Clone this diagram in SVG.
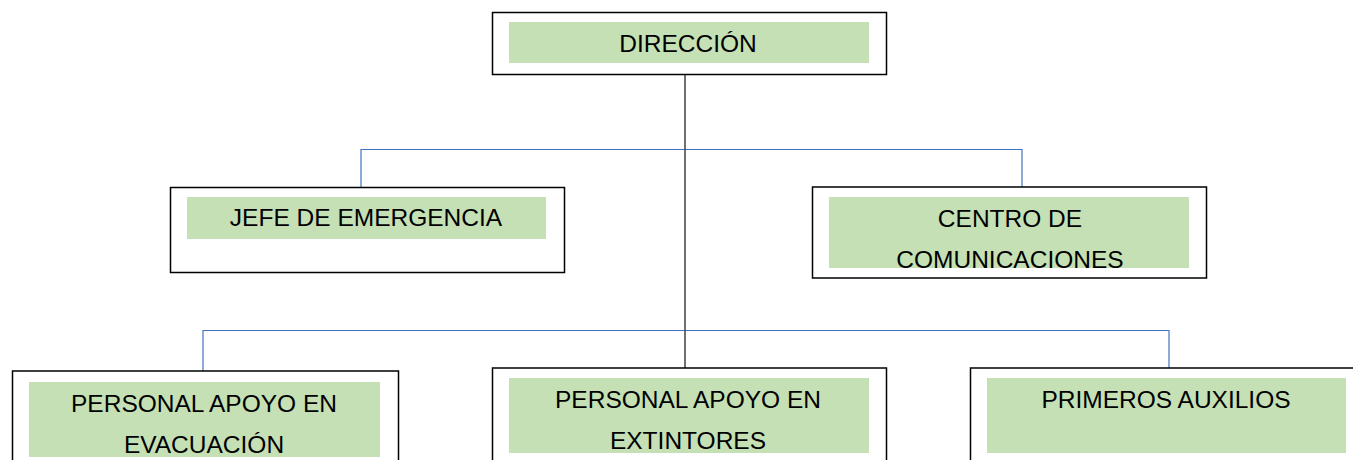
<svg xmlns="http://www.w3.org/2000/svg" width="1353" height="460" viewBox="0 0 1353 460">
<style>
.box{fill:#fff;stroke:#000;stroke-width:1.5}
.fill{fill:#C5E0B4}
.t{font-family:"Liberation Sans",Arial,sans-serif;font-size:24.5px;fill:#000;text-anchor:middle}
.blue{stroke:#4472C4;stroke-width:1.2;fill:none}
.trunk{stroke:#404040;stroke-width:1.5;fill:none}
</style>
<rect width="1353" height="460" fill="#fff"/>
<g id="connectors">
<path class="blue" d="M361,188 V149.5 H1022 V187"/>
<path class="blue" d="M203,371 V330.5 H1169 V368"/>
<path class="trunk" d="M685,75 V368"/>
</g>
<g id="direccion">
<rect class="box" x="492.5" y="12.5" width="394" height="62"/>
<rect class="fill" x="509" y="22" width="360" height="41"/>
<text class="t" x="688" y="52">DIRECCIÓN</text>
</g>
<g id="jefe">
<rect class="box" x="170.5" y="187.5" width="394" height="85"/>
<rect class="fill" x="187" y="197" width="359" height="42"/>
<text class="t" x="366" y="226">JEFE DE EMERGENCIA</text>
</g>
<g id="centro">
<rect class="box" x="812.5" y="187" width="394" height="91"/>
<rect class="fill" x="829" y="197" width="360" height="71"/>
<text class="t" x="1010" y="227">CENTRO DE</text>
<text class="t" x="1010" y="268">COMUNICACIONES</text>
</g>
<g id="evacuacion">
<rect class="box" x="12.5" y="371" width="386" height="100"/>
<rect class="fill" x="29" y="382" width="351" height="75"/>
<text class="t" x="204" y="412">PERSONAL APOYO EN</text>
<text class="t" x="204" y="453">EVACUACIÓN</text>
</g>
<g id="extintores">
<rect class="box" x="492.5" y="368" width="394" height="100"/>
<rect class="fill" x="509" y="378" width="360" height="75"/>
<text class="t" x="688" y="408">PERSONAL APOYO EN</text>
<text class="t" x="688" y="449">EXTINTORES</text>
</g>
<g id="primeros">
<rect class="box" x="970.5" y="368" width="400" height="100"/>
<rect class="fill" x="987" y="378" width="359" height="75"/>
<text class="t" x="1166" y="408">PRIMEROS AUXILIOS</text>
</g>
</svg>
